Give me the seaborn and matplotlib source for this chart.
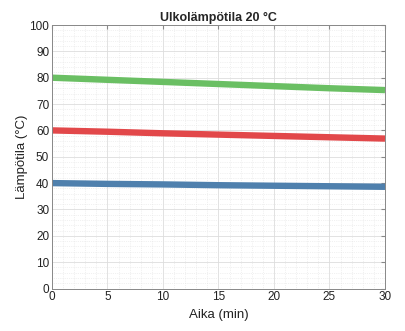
import numpy as np
import pandas as pd
import seaborn as sns
import matplotlib
matplotlib.use("Agg")
import matplotlib.pyplot as plt
from matplotlib.ticker import MultipleLocator

time_min = [0, 5, 10, 15, 20, 25, 30]
green_vals = [80.0, 79.2, 78.4, 77.6, 76.8, 76.0, 75.3]
red_vals = [60.0, 59.5, 58.9, 58.4, 57.9, 57.4, 56.9]
blue_vals = [40.0, 39.7, 39.5, 39.2, 39.0, 38.8, 38.6]

df = pd.DataFrame({
    "t": time_min * 3,
    "T": green_vals + red_vals + blue_vals,
    "s": ["g"] * 7 + ["r"] * 7 + ["b"] * 7,
})

sns.set_style("white")
plt.rcParams['font.family'] = ['Liberation Sans', 'DejaVu Sans']

fig = plt.figure(figsize=(4.06, 3.31), dpi=100)
ax = fig.add_axes([52/406, 1 - 288.5/331, 333/406, 263.5/331])

palette = {"g": "#6abf63", "r": "#e2484a", "b": "#4f80ad"}
sns.lineplot(data=df, x="t", y="T", hue="s", palette=palette, linewidth=4.6,
             legend=False, ax=ax, solid_capstyle="butt")

ax.set_xlim(0, 30)
ax.set_ylim(0, 100)
ax.xaxis.set_major_locator(MultipleLocator(5))
ax.yaxis.set_major_locator(MultipleLocator(10))
ax.xaxis.set_minor_locator(MultipleLocator(1))
ax.yaxis.set_minor_locator(MultipleLocator(2))
ax.grid(True, which="major", color="#dddddd", linewidth=0.6)
ax.grid(True, which="minor", color="#e4e4e4", linewidth=0.5, linestyle=":")
ax.set_axisbelow(True)
for sp in ax.spines.values():
    sp.set_color("#888888")
    sp.set_linewidth(0.7)
ax.tick_params(which="major", direction="in", length=3, color="#888888",
               labelsize=8.5, labelcolor="#222222", top=True, right=True, pad=2)
ax.tick_params(which="minor", length=0)
ax.set_xlabel("Aika (min)", fontsize=9.5, color="#222222", labelpad=4)
ax.set_ylabel("Lämpötila (°C)", fontsize=9.5, color="#222222", labelpad=1)
ax.set_title("Ulkolämpötila 20 °C", fontsize=9, fontweight="bold", pad=3)

fig.savefig("out.png", dpi=100)
